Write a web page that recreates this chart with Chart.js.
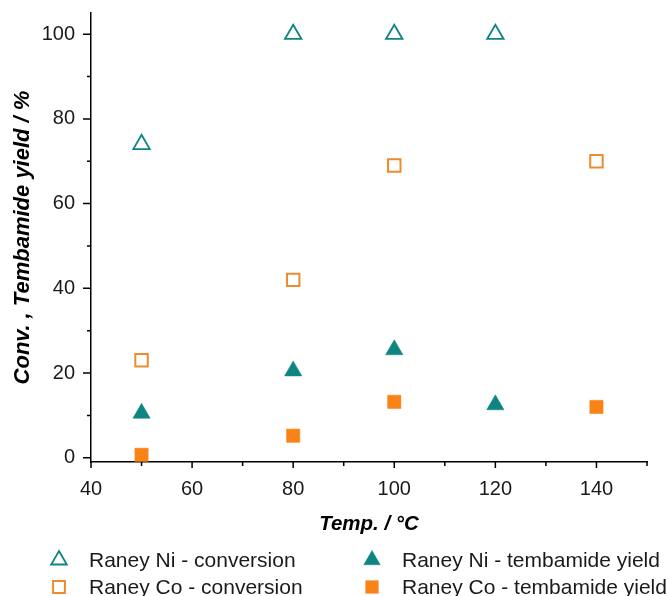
<!DOCTYPE html>
<html>
<head>
<meta charset="utf-8">
<script src="https://cdn.jsdelivr.net/npm/chart.js@4"></script>
<style>
  html, body { margin: 0; padding: 0; background: #ffffff; }
  #wrap { width: 667px; height: 596px; }
</style>
</head>
<body>
<div id="wrap"><canvas id="c" width="667" height="596"></canvas></div>
<script>
// ---- data ----
const niConvTemp = [50, 80, 100, 120];
const niConvVal = [74, 100, 100, 100];
const niYieldTemp = [50, 80, 100, 120];
const niYieldVal = [10.5, 20.5, 25.5, 12.5];
const coConvTemp = [50, 80, 100, 140];
const coConvVal = [23, 42, 69, 70];
const coYieldTemp = [50, 80, 100, 140];
const coYieldVal = [0.7, 5.2, 13.2, 12];
const seriesLabels = ['Raney Ni - conversion', 'Raney Ni - tembamide yield', 'Raney Co - conversion', 'Raney Co - tembamide yield'];
const xTickValues = [40, 60, 80, 100, 120, 140];
const yTickValues = [0, 20, 40, 60, 80, 100];
const xMinorValues = [50, 70, 90, 110, 130, 150];
const yMinorValues = [10, 30, 50, 70, 90];

const TEAL = '#0e8581';
const ORANGE = '#f98316';
const ORANGE_OPEN = '#ec8c2e';
const FONT = "'Liberation Sans', Arial, sans-serif";

const pts = (xs, ys) => xs.map((x, i) => ({ x: x, y: ys[i] }));

const datasets = [
  { label: seriesLabels[0], data: pts(niConvTemp, niConvVal), pointStyle: 'triangle', pointRadius: 9.5,
    backgroundColor: 'rgba(255,255,255,0)', borderColor: TEAL, borderWidth: 1.8 },
  { label: seriesLabels[1], data: pts(niYieldTemp, niYieldVal), pointStyle: 'triangle', pointRadius: 10,
    backgroundColor: TEAL, borderColor: TEAL, borderWidth: 0.5 },
  { label: seriesLabels[2], data: pts(coConvTemp, coConvVal), pointStyle: 'rect', pointRadius: 8.8,
    backgroundColor: 'rgba(255,255,255,0)', borderColor: ORANGE_OPEN, borderWidth: 2 },
  { label: seriesLabels[3], data: pts(coYieldTemp, coYieldVal), pointStyle: 'rect', pointRadius: 9.4,
    backgroundColor: ORANGE, borderColor: ORANGE, borderWidth: 0.5 }
];
datasets.forEach(d => { d.showLine = false; d.clip = false; d.pointHoverRadius = d.pointRadius; });

// minor/major ticks drawn through the scales
const tickPlugin = {
  id: 'tickMarks',
  afterDraw(chart) {
    const ctx = chart.ctx, xs = chart.scales.x, ys = chart.scales.y;
    const left = chart.chartArea.left, bottom = chart.chartArea.bottom;
    ctx.save();
    ctx.strokeStyle = '#000';
    ctx.lineWidth = 1.5;
    ctx.beginPath();
    yTickValues.forEach(v => { const p = ys.getPixelForValue(v); ctx.moveTo(left - 8, p); ctx.lineTo(left, p); });
    yMinorValues.forEach(v => { const p = ys.getPixelForValue(v); ctx.moveTo(left - 4, p); ctx.lineTo(left, p); });
    xTickValues.forEach(v => { const p = xs.getPixelForValue(v); ctx.moveTo(p, bottom); ctx.lineTo(p, bottom + 6); });
    xMinorValues.forEach(v => { const p = xs.getPixelForValue(v); ctx.moveTo(p, bottom); ctx.lineTo(p, bottom + 4); });
    ctx.stroke();
    ctx.restore();
  }
};

// two-column legend
const legendPlugin = {
  id: 'gridLegend',
  afterDraw(chart) {
    const ctx = chart.ctx;
    const colMarkerX = [59, 372];
    const colTextX = [89, 402];
    const rowY = [560, 587];
    ctx.save();
    chart.data.datasets.forEach((d, i) => {
      const col = i % 2, row = Math.floor(i / 2);
      const mx = colMarkerX[col], my = rowY[row];
      ctx.fillStyle = d.backgroundColor;
      ctx.strokeStyle = d.borderColor;
      ctx.lineWidth = d.borderWidth;
      Chart.helpers.drawPoint(ctx, { pointStyle: d.pointStyle, radius: d.pointRadius * 0.95, rotation: 0, borderWidth: d.borderWidth }, mx, my);
      ctx.fillStyle = '#1a1a1a';
      ctx.font = '21px ' + FONT;
      ctx.textAlign = 'left';
      ctx.textBaseline = 'middle';
      ctx.fillText(d.label, colTextX[col], my + 1);
    });
    ctx.restore();
  }
};

new Chart(document.getElementById('c'), {
  type: 'scatter',
  data: { datasets: datasets },
  plugins: [tickPlugin, legendPlugin],
  options: {
    responsive: false,
    animation: false,
    devicePixelRatio: 1,
    layout: { padding: { top: 13, right: 20, left: 0, bottom: 59 } },
    plugins: { legend: { display: false }, tooltip: { enabled: false } },
    scales: {
      x: {
        type: 'linear', min: 40, max: 150,
        afterBuildTicks: s => { s.ticks = xTickValues.map(v => ({ value: v })); },
        afterFit: s => { s.height = 75; s.paddingLeft = 0; s.paddingRight = 0; },
        grid: { display: true, drawOnChartArea: false, drawTicks: false },
        border: { display: true, color: '#000', width: 1.5 },
        ticks: { color: '#1a1a1a', font: { family: FONT, size: 20 }, padding: 15, maxRotation: 0, autoSkip: false },
        title: { display: true, text: 'Temp. / °C', color: '#000',
                 font: { family: FONT, size: 20.5, weight: 'bold', style: 'italic', lineHeight: 1.2 },
                 padding: { top: 0, bottom: 0 } }
      },
      y: {
        type: 'linear', min: -1, max: 105,
        afterBuildTicks: s => { s.ticks = yTickValues.map(v => ({ value: v })); },
        afterFit: s => { s.width = 91; s.paddingTop = 0; s.paddingBottom = 0; },
        grid: { display: true, drawOnChartArea: false, drawTicks: false },
        border: { display: true, color: '#000', width: 1.5 },
        ticks: { color: '#1a1a1a', font: { family: FONT, size: 20 }, padding: 16, autoSkip: false },
        title: { display: true, text: 'Conv. , Tembamide yield / %', color: '#000',
                 font: { family: FONT, size: 22, weight: 'bold', style: 'italic', lineHeight: 1.2 },
                 padding: { top: 10, bottom: 0 } }
      }
    }
  }
});
</script>
</body>
</html>
